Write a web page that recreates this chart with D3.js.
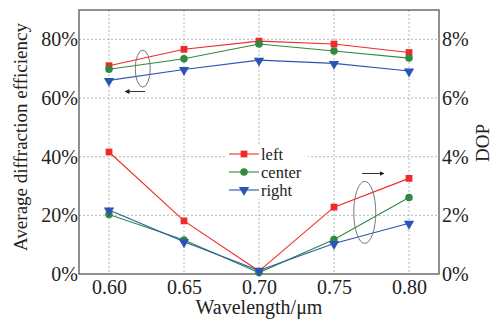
<!DOCTYPE html>
<html><head><meta charset="utf-8">
<script src="https://cdn.jsdelivr.net/npm/d3@7"></script>
<style>body{margin:0;background:#fff}svg{display:block}svg text{fill:#222}</style>
</head><body><svg id="c" width="499" height="324"></svg>
<script>
const wavelengths = [0.60, 0.65, 0.70, 0.75, 0.80];
const xTickLabels = ["0.60", "0.65", "0.70", "0.75", "0.80"];
const leftTicks = [0, 0.2, 0.4, 0.6, 0.8];
const rightTicks = [0, 0.02, 0.04, 0.06, 0.08];
const seriesNames = ["left", "center", "right"];
const seriesColors = ["#f02a2a", "#2f8a3c", "#2a55b5"];
// efficiency (left axis, fraction)
const effLeft   = [0.710, 0.766, 0.794, 0.784, 0.755];
const effCenter = [0.698, 0.734, 0.784, 0.760, 0.736];
const effRight  = [0.660, 0.697, 0.729, 0.718, 0.692];
// DOP (right axis, fraction)
const dopLeft   = [0.0416, 0.0181, 0.0010, 0.0228, 0.0326];
const dopCenter = [0.0203, 0.0116, 0.0005, 0.0118, 0.0261];
const dopRight  = [0.0218, 0.0110, 0.0012, 0.0104, 0.0173];

const FONT = '"Liberation Serif","Times New Roman","DejaVu Serif",serif';
const svg = d3.select("#c");
const m = {l: 79, t: 10, r: 439, b: 274};
const x = d3.scaleLinear().domain([0.58, 0.82]).range([m.l, m.r]);
const yL = d3.scaleLinear().domain([0, 0.9]).range([m.b, m.t]);
const yR = d3.scaleLinear().domain([0, 0.09]).range([m.b, m.t]);

// grid
const g = svg.append("g");
g.selectAll(".gx").data(wavelengths).join("line")
  .attr("x1", d => x(d)).attr("x2", d => x(d)).attr("y1", m.t).attr("y2", m.b)
  .attr("stroke", "#b8b8b8").attr("stroke-width", 1).attr("stroke-dasharray", "2,2");
g.selectAll(".gy").data(leftTicks.slice(1)).join("line")
  .attr("x1", m.l).attr("x2", m.r).attr("y1", d => yL(d)).attr("y2", d => yL(d))
  .attr("stroke", "#b8b8b8").attr("stroke-width", 1).attr("stroke-dasharray", "2,2");

// axes
const fmtL = d3.format(".0%");
const axB = svg.append("g").attr("transform", `translate(0,${m.b})`)
  .call(d3.axisBottom(x).tickValues(wavelengths).tickFormat((d, i) => xTickLabels[i]).tickSize(0).tickPadding(6));
const axL = svg.append("g").attr("transform", `translate(${m.l},0)`)
  .call(d3.axisLeft(yL).tickValues(leftTicks).tickFormat(fmtL).tickSize(0).tickPadding(1));
const axR = svg.append("g").attr("transform", `translate(${m.r},0)`)
  .call(d3.axisRight(yR).tickValues(rightTicks).tickFormat(fmtL).tickSize(0).tickPadding(3));
[axB, axL, axR].forEach(a => {
  a.attr("font-family", FONT);
  a.select(".domain").remove();
  a.selectAll("text").attr("font-size", 20).attr("fill", "#222");
});
axB.selectAll("text").attr("dy", "0.71em");
svg.append("rect").attr("x", m.l).attr("y", m.t).attr("width", m.r - m.l).attr("height", m.b - m.t)
  .attr("fill", "none").attr("stroke", "#555").attr("stroke-width", 1.3);

// axis titles
svg.append("text").attr("transform", "translate(27,137) rotate(-90)").attr("text-anchor", "middle")
  .attr("font-family", FONT).attr("font-size", 19).text("Average diffraction efficiency");
svg.append("text").attr("transform", "translate(489,143) rotate(-90)").attr("text-anchor", "middle")
  .attr("font-family", FONT).attr("font-size", 19).text("DOP");
svg.append("text").attr("x", 259).attr("y", 314).attr("text-anchor", "middle")
  .attr("font-family", FONT).attr("font-size", 20).text("Wavelength/μm");

// series
const effData = [effLeft, effCenter, effRight];
const dopData = [dopLeft, dopCenter, dopRight];
const line = (ys) => d3.line().x((d, i) => x(wavelengths[i])).y(d => ys(d));
const symTypes = [d3.symbolSquare, d3.symbolCircle, d3.symbolTriangle];
const symSizes = [46, 44, 46];
function marker(sel, k) {
  sel.attr("d", d3.symbol().type(symTypes[k]).size(symSizes[k])())
    .attr("fill", seriesColors[k]);
  if (k === 2) sel.attr("transform", function() { return d3.select(this).attr("transform") + " rotate(180)"; });
}
function drawGroup(data, ys) {
  data.forEach((vals, k) => {
    svg.append("path").datum(vals).attr("d", line(ys)).attr("fill", "none")
      .attr("stroke", seriesColors[k]).attr("stroke-width", 1.1);
  });
  data.forEach((vals, k) => {
    svg.selectAll(null).data(vals).join("path")
      .attr("transform", (d, i) => `translate(${x(wavelengths[i])},${ys(d) + (k === 2 ? 0.5 : 0)})`)
      .call(marker, k);
  });
}
drawGroup(effData, yL);
drawGroup(dopData, yR);

// legend
const lg = svg.append("g").attr("transform", "translate(226,144)");
lg.append("rect").attr("x", 0).attr("y", 0).attr("width", 82).attr("height", 55).attr("fill", "#fff");
seriesNames.forEach((name, k) => {
  const yy = 10 + k * 18;
  lg.append("line").attr("x1", 3).attr("x2", 33).attr("y1", yy).attr("y2", yy)
    .attr("stroke", seriesColors[k]).attr("stroke-width", 1.1);
  lg.append("path").attr("transform", `translate(18,${yy})`).call(marker, k);
  lg.append("text").attr("x", 35).attr("y", yy + 5.5).attr("font-family", FONT).attr("font-size", 16.5).text(name);
});

// annotations
const ann = svg.append("g").attr("stroke", "#777").attr("fill", "none");
ann.append("ellipse").attr("cx", x(0.6225)).attr("cy", yL(0.7)).attr("rx", 7.5).attr("ry", 18.5).attr("stroke-width", 1);
ann.append("ellipse").attr("cx", x(0.7705)).attr("cy", yR(0.021)).attr("rx", 11).attr("ry", 31).attr("stroke-width", 1);
svg.append("defs").append("marker").attr("id", "ah").attr("viewBox", "0 0 10 10").attr("refX", 9).attr("refY", 5)
  .attr("markerWidth", 5).attr("markerHeight", 5).attr("orient", "auto")
  .append("path").attr("d", "M0,0L10,5L0,10z").attr("fill", "#222");
svg.append("line").attr("x1", 145).attr("x2", 125).attr("y1", 91.5).attr("y2", 91.5)
  .attr("stroke", "#333").attr("stroke-width", 1).attr("marker-end", "url(#ah)");
svg.append("line").attr("x1", 362).attr("x2", 384).attr("y1", 173.5).attr("y2", 173.5)
  .attr("stroke", "#333").attr("stroke-width", 1).attr("marker-end", "url(#ah)");
</script></body></html>
